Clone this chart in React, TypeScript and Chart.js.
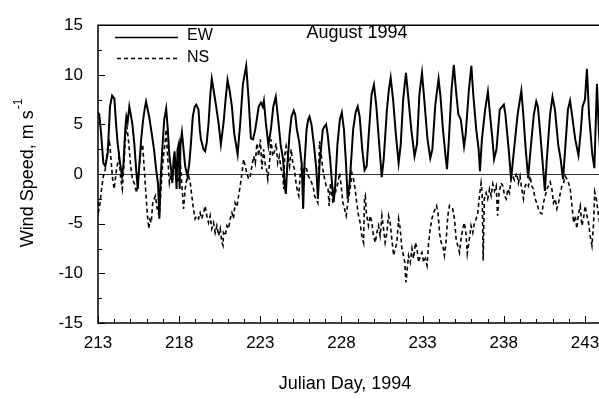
import { useEffect, useRef } from "react";
import { Chart, registerables } from "chart.js";

Chart.register(...registerables);

// ---- Data ----
const ewDays = [
  213.0, 213.08, 213.19, 213.33, 213.45, 213.6, 213.74, 213.87, 214.01, 214.11, 214.21, 214.36, 214.48, 214.56, 214.68, 214.75, 214.83, 214.93,
  215.02, 215.12, 215.24, 215.35, 215.45, 215.55, 215.66, 215.78, 215.9, 215.96, 216.05, 216.15, 216.3, 216.45, 216.58, 216.7, 216.78, 216.86,
  216.96, 217.08, 217.2, 217.3, 217.4, 217.5, 217.58, 217.66, 217.72, 217.78, 217.84, 217.9, 217.97, 218.03, 218.08, 218.17, 218.27, 218.37,
  218.51, 218.62, 218.72, 218.84, 218.96, 219.05, 219.19, 219.27, 219.34, 219.5, 219.6, 219.7, 219.81, 219.92, 220.01, 220.12, 220.28, 220.43,
  220.57, 220.73, 220.86, 220.98, 221.1, 221.25, 221.39, 221.6, 221.76, 221.93, 222.13, 222.28, 222.42, 222.55, 222.69, 222.9, 223.04, 223.15,
  223.22, 223.35, 223.5, 223.65, 223.8, 223.95, 224.1, 224.25, 224.4, 224.5, 224.57, 224.65, 224.8, 224.92, 225.06, 225.15, 225.25, 225.4,
  225.55, 225.64, 225.72, 225.85, 225.95, 226.03, 226.15, 226.3, 226.45, 226.55, 226.65, 226.85, 226.95, 227.05, 227.15, 227.3, 227.42, 227.52,
  227.62, 227.75, 227.9, 228.02, 228.15, 228.28, 228.38, 228.5, 228.6, 228.72, 228.87, 229.0, 229.12, 229.28, 229.42, 229.55, 229.68, 229.85,
  230.0, 230.15, 230.3, 230.48, 230.6, 230.8, 230.92, 231.03, 231.18, 231.35, 231.52, 231.65, 231.8, 231.97, 232.1, 232.3, 232.5, 232.65,
  232.8, 232.96, 233.1, 233.3, 233.47, 233.6, 233.78, 233.98, 234.1, 234.25, 234.4, 234.5, 234.6, 234.78, 234.92, 235.05, 235.2, 235.35,
  235.55, 235.65, 235.85, 236.0, 236.12, 236.3, 236.45, 236.53, 236.65, 236.85, 237.02, 237.15, 237.3, 237.4, 237.55, 237.75, 237.9, 238.0,
  238.1, 238.3, 238.45, 238.6, 238.85, 239.08, 239.2, 239.35, 239.5, 239.65, 239.85, 240.0, 240.1, 240.25, 240.4, 240.53, 240.65, 240.85,
  241.0, 241.15, 241.35, 241.5, 241.65, 241.8, 241.95, 242.08, 242.2, 242.4, 242.6, 242.75, 242.85, 243.0, 243.12, 243.25, 243.45, 243.58,
  243.66, 243.74, 243.85, 243.95,
];
const ewSpeed = [
  6.2, 6.0, 4.1, 1.1, 0.8, 2.1, 6.8, 7.9, 7.6, 5.1, 3.1, 1.1, -0.2, 0.8, 4.5, 5.8, 5.3, 6.8,
  6.0, 5.0, 3.0, 0.5, -1.5, 1.0, 3.5, 5.5, 6.8, 7.3, 6.6, 5.8, 4.2, 2.5, 0.5, -1.0, -4.5, -0.5,
  2.5, 5.5, 6.6, 4.5, 1.8, 0.5, -0.9, 1.5, 2.3, 0.5, -1.5, 2.5, 3.0, -1.5, 3.0, 4.2, 2.5, 0.8,
  -0.2, 1.0, 3.0, 5.8, 6.8, 7.0, 6.5, 4.5, 3.5, 2.5, 2.3, 3.2, 5.1, 8.0, 9.6, 8.5, 6.8, 5.1,
  3.0, 5.1, 7.5, 9.5, 8.5, 6.8, 4.1, 2.0, 5.1, 9.1, 10.9, 7.5, 3.6, 3.5, 4.5, 6.8, 7.2, 6.8,
  7.4, 5.0, 2.9, 4.5, 6.8, 7.8, 5.5, 3.0, 1.5, -1.0, -2.0, 0.5, 4.0, 5.8, 6.4, 6.0, 4.5, 3.2,
  1.0, -3.5, 1.0, 4.5, 5.5, 5.8, 5.0, 3.0, 0.5, -2.5, 1.0, 4.5, 4.8, 5.0, 4.0, 1.5, -1.0, -2.8,
  -1.0, 3.0, 5.5, 6.2, 4.5, 1.0, -2.5, -0.9, 1.5, 4.5, 6.2, 6.8, 5.8, 2.5, 0.4, 0.8, 4.0, 8.0,
  9.0, 6.8, 3.5, -0.3, 1.5, 6.5, 8.5, 9.7, 7.5, 4.0, 1.1, 3.0, 7.5, 10.2, 8.0, 4.5, 1.8, 3.0,
  8.0, 10.2, 7.5, 3.5, 1.6, 2.5, 7.0, 9.6, 7.8, 4.5, 2.0, 0.5, 3.0, 8.5, 11.0, 8.5, 6.0, 5.5,
  2.8, 4.0, 8.5, 10.9, 8.0, 4.5, 2.5, 0.3, 3.5, 6.5, 8.3, 6.0, 3.5, 1.5, 2.5, 6.5, 6.8, 7.0,
  6.0, 2.5, -0.5, 2.0, 6.0, 8.4, 6.0, 2.5, -0.4, 2.5, 6.0, 7.3, 6.8, 4.0, 1.0, -1.7, 1.5, 6.0,
  7.8, 6.5, 3.0, 1.5, -0.5, 3.0, 6.5, 7.4, 6.0, 3.5, 1.9, 4.5, 6.8, 7.5, 10.6, 6.0, 2.0, 0.6,
  5.0, 9.1, 4.5, 2.0,
];

const nsDays = [
  213.0, 213.04, 213.12, 213.22, 213.32, 213.45, 213.58, 213.7, 213.8, 213.9, 214.0, 214.1, 214.2, 214.3, 214.4, 214.5, 214.6, 214.7,
  214.78, 214.9, 215.0, 215.12, 215.25, 215.38, 215.5, 215.62, 215.75, 215.85, 215.96, 216.05, 216.13, 216.2, 216.28, 216.37, 216.46, 216.54,
  216.62, 216.7, 216.78, 216.86, 216.96, 217.05, 217.12, 217.2, 217.28, 217.4, 217.5, 217.58, 217.7, 217.8, 217.9, 218.0, 218.06, 218.16,
  218.27, 218.37, 218.47, 218.58, 218.68, 218.78, 218.88, 218.98, 219.08, 219.19, 219.29, 219.39, 219.5, 219.6, 219.7, 219.81, 219.91, 220.01,
  220.12, 220.22, 220.32, 220.43, 220.53, 220.63, 220.7, 220.73, 220.84, 220.94, 221.04, 221.15, 221.25, 221.35, 221.45, 221.56, 221.66, 221.76,
  221.87, 221.97, 222.07, 222.17, 222.28, 222.38, 222.48, 222.59, 222.69, 222.79, 222.9, 223.0, 223.1, 223.2, 223.3, 223.38, 223.46, 223.56,
  223.66, 223.76, 223.86, 223.97, 224.07, 224.17, 224.28, 224.38, 224.44, 224.5, 224.59, 224.7, 224.8, 224.9, 225.0, 225.1, 225.2, 225.31,
  225.37, 225.45, 225.55, 225.66, 225.76, 225.85, 225.96, 226.07, 226.17, 226.28, 226.34, 226.44, 226.54, 226.65, 226.75, 226.85, 226.96, 227.06,
  227.17, 227.24, 227.32, 227.4, 227.47, 227.57, 227.68, 227.78, 227.88, 227.98, 228.09, 228.19, 228.29, 228.39, 228.48, 228.57, 228.64, 228.74,
  228.84, 228.94, 229.05, 229.15, 229.25, 229.36, 229.42, 229.47, 229.53, 229.66, 229.77, 229.87, 229.97, 230.08, 230.18, 230.28, 230.38, 230.49,
  230.59, 230.69, 230.8, 230.9, 231.0, 231.1, 231.21, 231.31, 231.41, 231.52, 231.62, 231.72, 231.82, 231.9, 231.97, 232.03, 232.13, 232.24,
  232.34, 232.44, 232.55, 232.65, 232.75, 232.86, 232.96, 233.06, 233.16, 233.27, 233.37, 233.47, 233.57, 233.67, 233.78, 233.86, 233.95, 234.05,
  234.14, 234.24, 234.34, 234.44, 234.55, 234.65, 234.75, 234.85, 234.96, 235.06, 235.16, 235.27, 235.37, 235.47, 235.57, 235.67, 235.75, 235.88,
  235.98, 236.09, 236.19, 236.3, 236.4, 236.5, 236.6, 236.67, 236.73, 236.8, 236.91, 237.01, 237.12, 237.22, 237.32, 237.43, 237.53, 237.62,
  237.7, 237.84, 237.94, 238.05, 238.15, 238.25, 238.35, 238.45, 238.55, 238.65, 238.8, 238.9, 239.0, 239.1, 239.21, 239.31, 239.42, 239.52,
  239.62, 239.72, 239.82, 239.93, 240.03, 240.13, 240.24, 240.34, 240.44, 240.55, 240.65, 240.75, 240.86, 240.96, 241.06, 241.17, 241.27, 241.37,
  241.48, 241.58, 241.68, 241.78, 241.89, 241.99, 242.09, 242.2, 242.3, 242.4, 242.5, 242.6, 242.71, 242.81, 242.91, 243.01, 243.12, 243.22,
  243.32, 243.43, 243.53, 243.6, 243.7, 243.84, 243.95,
];
const nsSpeed = [
  -2.8, -3.7, -3.0, -1.5, -0.3, 0.5, 2.5, 3.5, 1.5, -0.5, -1.5, 0.0, 1.0, 1.8, -0.5, -1.5, 1.0, 4.0,
  4.8, 3.0, 1.0, -0.5, -1.0, -1.9, 0.0, 2.0, 3.0, 0.5, -2.2, -4.2, -5.5, -4.6, -4.9, -2.9, -2.5, -2.2,
  -3.2, -3.9, -4.2, -2.0, 0.5, 2.0, 3.0, 4.5, 2.0, -0.9, 0.0, -0.5, 1.1, 0.0, -0.9, -0.5, 1.5, -1.0,
  -3.5, -1.5, -0.5, -0.2, -0.8, -2.2, -3.5, -4.5, -4.2, -4.5, -3.9, -4.5, -3.9, -3.2, -4.2, -4.9, -4.2, -5.5,
  -4.9, -5.9, -5.2, -6.2, -5.5, -6.9, -7.2, -5.9, -6.2, -5.2, -5.5, -4.5, -3.9, -4.5, -2.9, -3.3, -2.2, -1.2,
  0.1, 1.5, 0.8, 0.1, -0.5, -0.2, 0.8, 1.8, 1.1, 3.1, 1.8, 3.5, 0.5, 2.5, 1.0, 0.5, -0.5, 1.0,
  3.5, 1.8, 2.2, 3.1, 1.1, 1.8, 0.5, 0.1, -1.5, 1.8, 2.8, 1.8, 0.8, 2.5, 1.1, 0.5, -0.9, -1.9,
  -2.2, -0.2, 0.8, 0.1, 0.8, 0.5, -0.2, -0.5, -0.9, -1.5, -2.2, -2.5, -2.9, 3.3, 2.0, 0.5, -0.5, -1.2,
  -1.5, -3.2, -0.9, -1.9, -2.9, -2.2, -1.5, -0.9, 0.1, -1.2, -2.9, -3.5, -4.2, -2.9, -2.0, -1.0, 0.1, -0.5,
  -1.5, -2.9, -4.2, -4.9, -6.2, -6.9, -2.5, -2.2, -3.9, -5.2, -4.2, -4.9, -6.2, -6.9, -5.9, -5.2, -6.2, -4.2,
  -5.5, -6.9, -5.9, -4.2, -4.9, -6.5, -8.2, -7.5, -6.9, -4.5, -5.5, -7.5, -8.2, -8.9, -10.9, -9.9, -8.2, -8.9,
  -7.5, -8.5, -6.9, -7.5, -8.9, -8.2, -7.9, -8.9, -8.5, -9.2, -6.9, -5.5, -4.5, -3.9, -3.5, -3.2, -4.0, -6.0,
  -6.9, -7.2, -8.2, -6.9, -4.2, -3.2, -3.5, -3.5, -4.5, -6.5, -7.2, -7.9, -6.5, -5.5, -4.9, -6.0, -8.0, -6.5,
  -5.2, -5.9, -4.9, -4.5, -3.9, -2.2, -0.9, -2.0, -8.7, -2.5, -1.9, -2.5, -1.5, -2.2, -1.0, -1.7, -1.2, -4.2,
  -1.9, -0.9, -1.2, -2.2, -2.5, -1.5, -1.9, -0.5, -0.2, -0.6, 0.1, -0.9, -0.2, -1.5, -2.5, -1.2, -0.9, -1.2,
  -0.2, -1.2, -1.5, -2.5, -2.9, -3.5, -3.9, -4.0, -2.9, -2.2, -1.5, -1.2, -0.8, -1.5, -2.9, -2.5, -3.5, -2.9,
  -1.9, -1.2, -0.9, -0.2, -0.5, -0.9, -1.5, -3.2, -4.9, -4.2, -5.5, -4.0, -3.2, -5.2, -4.5, -3.2, -4.2, -4.9,
  -6.2, -7.2, -5.0, -1.8, -2.5, -4.2, -5.5,
];

const dayTicks = [213, 218, 223, 228, 233, 238, 243];
const dayMinorTicks = [
  213, 214, 215, 216, 217, 218, 219, 220, 221, 222, 223, 224, 225, 226, 227, 228,
  229, 230, 231, 232, 233, 234, 235, 236, 237, 238, 239, 240, 241, 242, 243, 244,
];
const speedTicks = [-15, -10, -5, 0, 5, 10, 15];
const speedMinorTicks = [-15, -12.5, -10, -7.5, -5, -2.5, 0, 2.5, 5, 7.5, 10, 12.5, 15];

const seriesNames = ["EW", "NS"];
const chartTitle = "August 1994";
const xTitle = "Julian Day, 1994";
const yTitleMain = "Wind Speed, m s";
const yTitleSup = "-1";

const FONT = "'Liberation Sans', Arial, Helvetica, sans-serif";
const CANVAS_W = 620;
const CANVAS_H = 399;

const decorPlugin = {
  id: "decor",
  beforeDatasetsDraw(chart: any) {
    const { ctx, chartArea: a, scales } = chart;
    const y0 = scales.y.getPixelForValue(0);
    ctx.save();
    ctx.strokeStyle = "#333";
    ctx.lineWidth = 1;
    ctx.beginPath();
    ctx.moveTo(a.left, Math.round(y0) + 0.5);
    ctx.lineTo(a.right, Math.round(y0) + 0.5);
    ctx.stroke();
    ctx.restore();
  },
  afterDraw(chart: any) {
    const { ctx, chartArea: a, scales } = chart;
    const xs = scales.x;
    const ys = scales.y;
    ctx.save();
    // frame
    ctx.strokeStyle = "#000";
    ctx.lineWidth = 1.5;
    ctx.beginPath();
    ctx.moveTo(a.right, a.top);
    ctx.lineTo(a.left, a.top);
    ctx.lineTo(a.left, a.bottom);
    ctx.lineTo(a.right, a.bottom);
    ctx.stroke();
    // inward tick marks
    ctx.lineWidth = 1;
    ctx.beginPath();
    for (const d of dayMinorTicks) {
      const px = Math.round(xs.getPixelForValue(d)) + 0.5;
      const len = dayTicks.includes(d) ? 7 : 4;
      ctx.moveTo(px, a.bottom);
      ctx.lineTo(px, a.bottom - len);
    }
    for (const v of speedMinorTicks) {
      const py = Math.round(ys.getPixelForValue(v)) + 0.5;
      const len = speedTicks.includes(v) ? 7 : 4;
      ctx.moveTo(a.left, py);
      ctx.lineTo(a.left + len, py);
    }
    ctx.stroke();

    // legend
    ctx.fillStyle = "#000";
    ctx.font = `16px ${FONT}`;
    ctx.textBaseline = "middle";
    ctx.textAlign = "left";
    ctx.lineWidth = 1.6;
    ctx.setLineDash([]);
    ctx.beginPath();
    ctx.moveTo(115, 37.5);
    ctx.lineTo(178, 37.5);
    ctx.stroke();
    ctx.fillText(seriesNames[0], 187, 36);
    ctx.setLineDash([4, 3]);
    ctx.beginPath();
    ctx.moveTo(117, 58.5);
    ctx.lineTo(178, 58.5);
    ctx.stroke();
    ctx.setLineDash([]);
    ctx.fillText(seriesNames[1], 187, 58);

    // chart title inside plot
    ctx.font = `18px ${FONT}`;
    ctx.textAlign = "center";
    ctx.fillText(chartTitle, 357, 33);

    // x title
    ctx.fillText(xTitle, 345, 384);

    // y title with superscript
    ctx.translate(28, 173);
    ctx.rotate(-Math.PI / 2);
    ctx.font = `18px ${FONT}`;
    const wMain = ctx.measureText(yTitleMain).width;
    ctx.font = `12px ${FONT}`;
    const wSup = ctx.measureText(yTitleSup).width;
    const start = -(wMain + wSup + 1) / 2;
    ctx.textAlign = "left";
    ctx.font = `18px ${FONT}`;
    ctx.fillText(yTitleMain, start, 0);
    ctx.font = `12px ${FONT}`;
    ctx.fillText(yTitleSup, start + wMain + 1, -9);
    ctx.restore();
  },
};

export default function App() {
  const canvasRef = useRef<HTMLCanvasElement | null>(null);

  useEffect(() => {
    const canvas = canvasRef.current;
    if (!canvas) return;
    const chart = new Chart(canvas, {
      type: "line",
      data: {
        datasets: [
          {
            label: seriesNames[0],
            data: ewDays.map((d, i) => ({ x: d, y: ewSpeed[i] })),
            borderColor: "#000",
            borderWidth: 2,
            pointRadius: 0,
            tension: 0,
            fill: false,
          },
          {
            label: seriesNames[1],
            data: nsDays.map((d, i) => ({ x: d, y: nsSpeed[i] })),
            borderColor: "#000",
            borderWidth: 1.6,
            borderDash: [4, 3],
            pointRadius: 0,
            tension: 0,
            fill: false,
          },
        ],
      },
      options: {
        responsive: false,
        animation: false,
        events: [],
        layout: { padding: { left: 0, top: 22, right: CANVAS_W - 601.2, bottom: 0 } },
        plugins: {
          legend: { display: false },
          title: { display: false },
          tooltip: { enabled: false },
        },
        scales: {
          x: {
            type: "linear",
            min: 213,
            max: 244,
            grid: { display: false, drawTicks: false },
            border: { display: false },
            afterBuildTicks: (scale: any) => {
              scale.ticks = dayTicks.map((v) => ({ value: v }));
            },
            afterFit: (scale: any) => {
              scale.height = CANVAS_H - 323;
            },
            ticks: {
              autoSkip: false,
              maxRotation: 0,
              padding: 10,
              color: "#000",
              font: { family: FONT, size: 17 },
              callback: (v: any) => String(v),
            },
          },
          y: {
            type: "linear",
            min: -15,
            max: 15,
            grid: { display: false, drawTicks: false },
            border: { display: false },
            afterBuildTicks: (scale: any) => {
              scale.ticks = speedTicks.map((v) => ({ value: v }));
            },
            afterFit: (scale: any) => {
              scale.width = 98;
            },
            ticks: {
              autoSkip: false,
              padding: 15,
              color: "#000",
              font: { family: FONT, size: 17 },
              callback: (v: any) => String(v),
            },
          },
        },
      },
      plugins: [decorPlugin],
    });
    return () => chart.destroy();
  }, []);

  return (
    <div
      style={{
        position: "fixed",
        left: 0,
        top: 0,
        width: 599,
        height: 399,
        overflow: "hidden",
        background: "#fff",
      }}
    >
      <canvas ref={canvasRef} width={CANVAS_W} height={CANVAS_H} style={{ display: "block" }} />
    </div>
  );
}
